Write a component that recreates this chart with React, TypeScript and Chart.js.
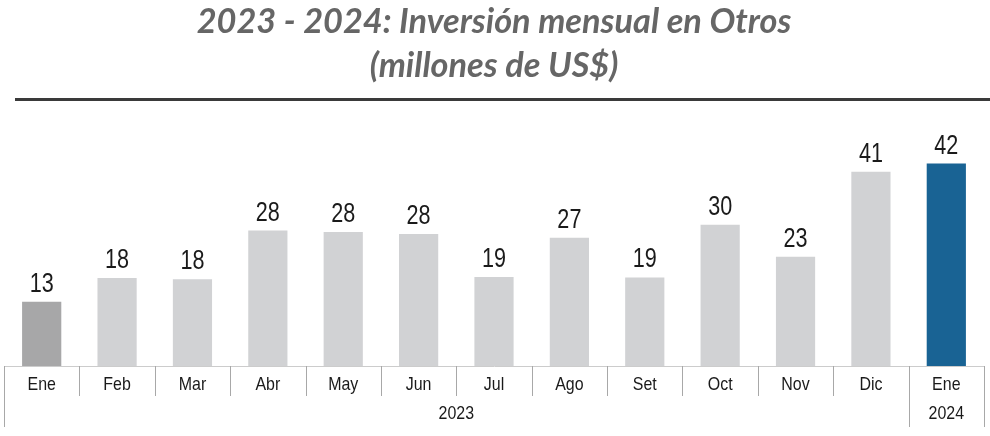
import React, { useEffect, useRef } from "react";
import { Chart, registerables } from "chart.js";

Chart.register(...registerables);

const titleLines = ["2023 - 2024: Inversión mensual en Otros", "(millones de US$)"];
const categories = ["Ene", "Feb", "Mar", "Abr", "May", "Jun", "Jul", "Ago", "Set", "Oct", "Nov", "Dic", "Ene"];
const values = [13.4, 18.4, 18.1, 28.3, 28.0, 27.6, 18.6, 26.8, 18.5, 29.5, 22.8, 40.6, 42.3];
const years = ["2023", "2024"];
const yearSpans = [12, 1];

const SANS = "'Liberation Sans', Arial, sans-serif";

function narrowText(ctx: CanvasRenderingContext2D, text: string, x: number, y: number, sx: number) {
  ctx.save();
  ctx.translate(x, y);
  ctx.scale(sx, 1);
  ctx.fillText(text, 0, 0);
  ctx.restore();
}

const overlayPlugin = {
  id: "overlay",
  afterDraw(chart: any) {
    const ctx = chart.ctx;
    const xs = chart.scales.x;
    const area = chart.chartArea;
    ctx.save();
    // title rule
    ctx.strokeStyle = "#3a3a3a";
    ctx.lineWidth = 3;
    ctx.beginPath();
    ctx.moveTo(15, 99.5);
    ctx.lineTo(chart.width, 99.5);
    ctx.stroke();

    // category boundaries
    const n = categories.length;
    const bounds: number[] = [];
    for (let i = 0; i <= n; i++) {
      if (i === 0) bounds.push(xs.left);
      else if (i === n) bounds.push(xs.right);
      else bounds.push((xs.getPixelForValue(i - 1) + xs.getPixelForValue(i)) / 2);
    }
    const groupEdges = new Set<number>();
    let acc = 0;
    groupEdges.add(0);
    yearSpans.forEach((s) => {
      acc += s;
      groupEdges.add(acc);
    });
    const y0 = area.bottom;
    ctx.strokeStyle = "#a8a8a8";
    ctx.lineWidth = 1;
    bounds.forEach((b, i) => {
      const x = Math.round(b) + 0.5;
      ctx.beginPath();
      ctx.moveTo(x, y0);
      ctx.lineTo(x, y0 + (groupEdges.has(i) ? 61 : 30));
      ctx.stroke();
    });

    ctx.fillStyle = "#1a1a1a";
    ctx.textAlign = "center";

    // category labels
    ctx.font = `19px ${SANS}`;
    ctx.textBaseline = "middle";
    categories.forEach((c, i) => {
      narrowText(ctx, c, xs.getPixelForValue(i), y0 + 19, 0.84);
    });

    // year labels
    let start = 0;
    years.forEach((yr, gi) => {
      const end = start + yearSpans[gi];
      const cx = (bounds[start] + bounds[end]) / 2;
      narrowText(ctx, yr, cx, y0 + 48, 0.84);
      start = end;
    });

    // data labels
    const meta = chart.getDatasetMeta(0);
    ctx.font = `27px ${SANS}`;
    ctx.textBaseline = "alphabetic";
    meta.data.forEach((bar: any, i: number) => {
      narrowText(ctx, String(Math.round(values[i])), bar.x, bar.y - 10, 0.8);
    });
    ctx.restore();
  },
};

export default function App() {
  const ref = useRef<HTMLCanvasElement | null>(null);
  useEffect(() => {
    if (!ref.current) return;
    const last = values.length - 1;
    const chart = new Chart(ref.current, {
      type: "bar",
      data: {
        labels: categories,
        datasets: [
          {
            data: values,
            backgroundColor: values.map((_, i) => (i === 0 ? "#a7a7a8" : i === last ? "#196394" : "#d1d2d4")),
            barPercentage: 0.52,
            categoryPercentage: 1,
          },
        ],
      },
      options: {
        responsive: false,
        animation: false,
        layout: { padding: { left: 4, right: 6, top: 0, bottom: 0 } },
        plugins: {
          legend: { display: false },
          tooltip: { enabled: false },
          title: {
            display: true,
            text: titleLines,
            color: "#666666",
            font: { family: "Lato, 'Open Sans', sans-serif", size: 34.3, weight: "bold", style: "italic", lineHeight: 1.29 },
            padding: { top: 0, bottom: 31 },
          },
        },
        scales: {
          x: {
            grid: { display: false },
            border: { display: true, color: "#cccccc" },
            ticks: { display: false },
            afterFit: (s: any) => {
              s.height = 70;
            },
          },
          y: { display: false, min: 0, max: 51.5 },
        },
      },
      plugins: [overlayPlugin],
    });
    return () => chart.destroy();
  }, []);
  return (
    <div style={{ position: "absolute", left: 0, top: 0, width: 990, height: 436 }}>
      <canvas ref={ref} width={990} height={436} />
    </div>
  );
}
